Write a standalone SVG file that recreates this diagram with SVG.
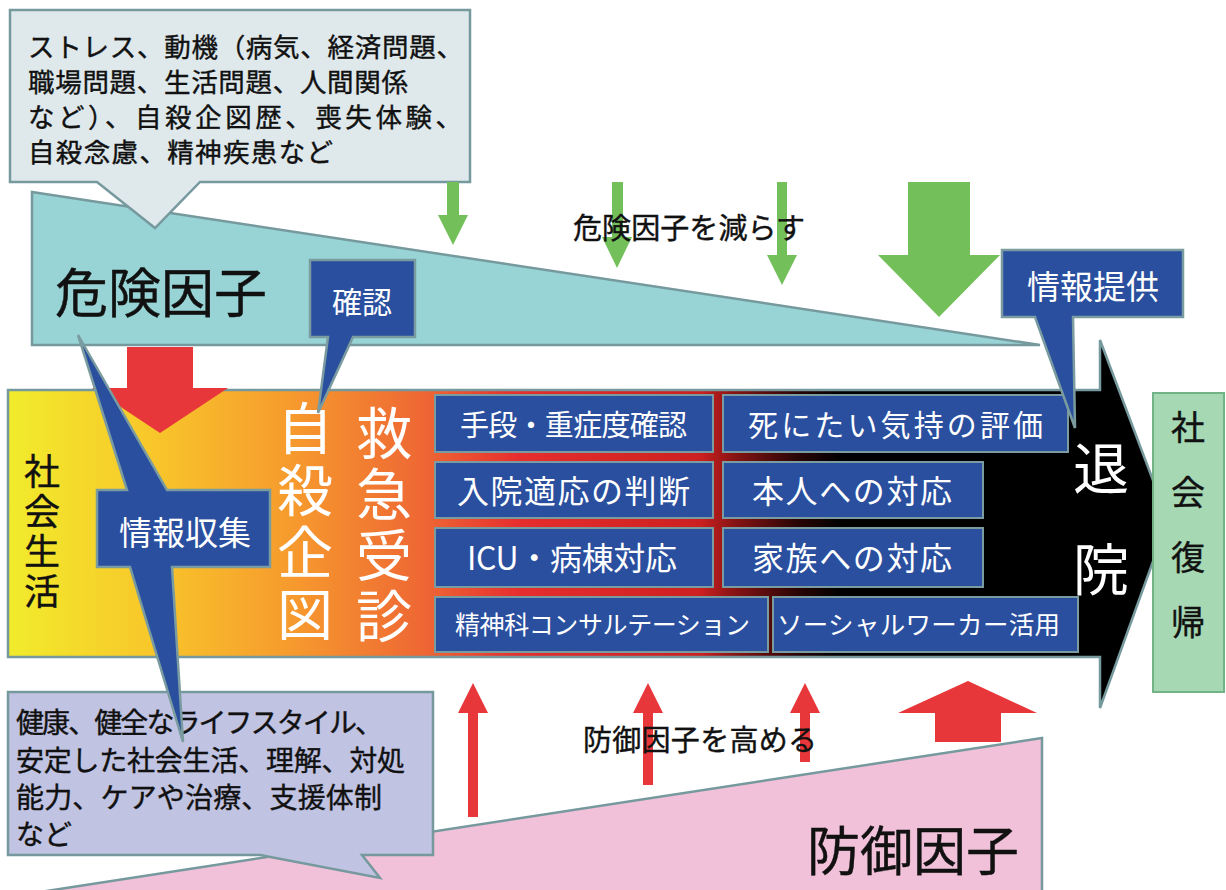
<svg xmlns="http://www.w3.org/2000/svg" width="1226" height="890" viewBox="0 0 1226 890">
<style>
text{font-family:"Noto Sans CJK JP","Noto Sans",sans-serif;}
.blk{fill:#111;stroke:#111;stroke-width:0.4;}
.wht{fill:#fff;}
.edge{stroke:#76999e;stroke-width:2.5;stroke-linejoin:miter;}
.blue{fill:#2a4f9f;stroke:#7a9ca0;stroke-width:2.5;}
.cell{fill:#2a4f9f;stroke:#7a9ca0;stroke-width:2;}
.green{fill:#73c05a;}
.red{fill:#e8373a;}
.mid{text-anchor:middle;}
.vert{writing-mode:vertical-rl;}
</style>
<defs>
<linearGradient id="band" gradientUnits="userSpaceOnUse" x1="8" y1="0" x2="1168" y2="0">
<stop offset="0" stop-color="#f1ec2c"/>
<stop offset="0.12" stop-color="#f8c82a"/>
<stop offset="0.25" stop-color="#f6982e"/>
<stop offset="0.36" stop-color="#ee6634"/>
<stop offset="0.44" stop-color="#e62e2e"/>
<stop offset="0.597" stop-color="#cc2020"/>
<stop offset="0.625" stop-color="#8a1414"/>
<stop offset="0.68" stop-color="#2a0505"/>
<stop offset="0.72" stop-color="#000"/>
<stop offset="1" stop-color="#000"/>
</linearGradient>
</defs>
<rect width="1226" height="890" fill="#fff"/>

<g id="risk-wedge">
<polygon class="edge" points="32,192 1040,345 32,345" fill="#98d4d6"/>
<text class="blk" x="55" y="313" font-size="53">危険因子</text>
</g>

<g id="protect-wedge">
<polygon class="edge" points="40,892 1042,738 1042,892" fill="#f1c1da"/>
<text class="blk" x="807" y="871" font-size="53">防御因子</text>
</g>

<g id="risk-callout">
<path class="edge" d="M10,10 H470 V182 H200 L155,228 L97,182 H10 Z" fill="#dfe9ec"/>
<text class="blk" font-size="26.5" x="28" y="57" textLength="435">ストレス、動機（病気、経済問題、</text>
<text class="blk" font-size="26.5" x="28" y="92" textLength="380">職場問題、生活問題、人間関係</text>
<text class="blk" font-size="26.5" x="28" y="127" textLength="434">など）、自殺企図歴、喪失体験、</text>
<text class="blk" font-size="26.5" x="28" y="162" textLength="305">自殺念慮、精神疾患など</text>
</g>

<g id="reduce-arrows">
<polygon class="green" points="447,182 459,182 459,215 468,215 453,245 438,215 447,215"/>
<polygon class="green" points="612,182 623,182 623,237 632,237 617,268 602,237 612,237"/>
<polygon class="green" points="777,182 787,182 787,255 797,255 782,285 767,255 777,255"/>
<polygon class="green" points="908,182 970,182 970,255 1000,255 939,317 878,255 908,255"/>
<text class="blk" x="573" y="239" font-size="29" textLength="232">危険因子を減らす</text>
</g>

<g id="process-band">
<polygon class="edge" points="8,390 1100,390 1100,340 1168,520 1100,708 1100,657 8,657" fill="url(#band)"/>
<text class="blk vert" x="42" y="453" font-size="36" letter-spacing="4">社会生活</text>
<text class="wht vert" x="305" y="400" font-size="56" letter-spacing="6">自殺企図</text>
<text class="wht vert" x="384" y="405" font-size="56" letter-spacing="5">救急受診</text>
<text class="wht vert" x="1101" y="440" font-size="56" letter-spacing="45">退院</text>
</g>

<g id="risk-down-arrow">
<polygon class="red" points="127,347 193,347 193,388 228,388 160,433 92,388 127,388"/>
</g>

<g id="cell-means">
<rect class="cell" x="435" y="395" width="278" height="57"/>
<text class="wht" x="460" y="436" font-size="29" textLength="227">手段・重症度確認</text>
</g>
<g id="cell-wish">
<rect class="cell" x="723" y="395" width="345" height="57"/>
<text class="wht" x="748" y="436" font-size="30" textLength="295">死にたい気持の評価</text>
</g>
<g id="cell-admit">
<rect class="cell" x="435" y="462" width="278" height="56"/>
<text class="wht" x="457" y="503" font-size="32" textLength="233">入院適応の判断</text>
</g>
<g id="cell-self">
<rect class="cell" x="723" y="462" width="260" height="56"/>
<text class="wht" x="752" y="503" font-size="32" textLength="200">本人への対応</text>
</g>
<g id="cell-icu">
<rect class="cell" x="435" y="528" width="278" height="59"/>
<text class="wht" x="467" y="570" font-size="32" textLength="210">ICU・病棟対応</text>
</g>
<g id="cell-family">
<rect class="cell" x="723" y="528" width="260" height="59"/>
<text class="wht" x="752" y="570" font-size="32" textLength="200">家族への対応</text>
</g>
<g id="cell-psych">
<rect class="cell" x="435" y="597" width="333" height="55"/>
<text class="wht" x="455" y="634" font-size="25" textLength="295">精神科コンサルテーション</text>
</g>
<g id="cell-social">
<rect class="cell" x="773" y="597" width="305" height="55"/>
<text class="wht" x="777" y="634" font-size="25.5" textLength="283">ソーシャルワーカー活用</text>
</g>

<g id="return-box">
<rect x="1153" y="393" width="71" height="299" fill="#a6d8b4" stroke="#72b486" stroke-width="2"/>
<text class="blk vert" x="1188" y="410" font-size="34" letter-spacing="31">社会復帰</text>
</g>

<g id="confirm-callout">
<path class="blue" d="M310,260 H415 V337 H353 L318,413 L328,337 H310 Z"/>
<text class="wht mid" x="362" y="313" font-size="30">確認</text>
</g>

<g id="info-provide-callout">
<path class="blue" d="M1002,250 H1183 V317 H1073 L1075,428 L1035,317 H1002 Z"/>
<text class="wht mid" x="1093" y="299" font-size="33">情報提供</text>
</g>

<g id="protect-callout">
<path class="edge" d="M8,692 H433 V855 H362 L380,878 L260,855 H8 Z" fill="#c0c3e1"/>
<text class="blk" font-size="28" x="16" y="733" textLength="367">健康、健全なライフスタイル、</text>
<text class="blk" font-size="28" x="16" y="771" textLength="389">安定した社会生活、理解、対処</text>
<text class="blk" font-size="28" x="16" y="808" textLength="366">能力、ケアや治療、支援体制</text>
<text class="blk" font-size="28" x="16" y="845">など</text>
</g>

<g id="info-collect-callout">
<path class="blue" d="M97,490 H127 L78,335 L167,490 H270 V567 H172 L183,742 L130,567 H97 Z"/>
<text class="wht mid" x="185" y="545" font-size="33">情報収集</text>
</g>

<g id="raise-arrows">
<polygon class="red" points="468,817 478,817 478,713 488,713 473,683 458,713 468,713"/>
<polygon class="red" points="643,785 653,785 653,713 663,713 648,683 633,713 643,713"/>
<polygon class="red" points="800,762 810,762 810,713 820,713 805,683 790,713 800,713"/>
<polygon class="red" points="935,742 1001,742 1001,713 1037,713 968,681 898,713 935,713"/>
<text class="blk" x="583" y="751" font-size="29" textLength="234">防御因子を高める</text>
</g>
</svg>
